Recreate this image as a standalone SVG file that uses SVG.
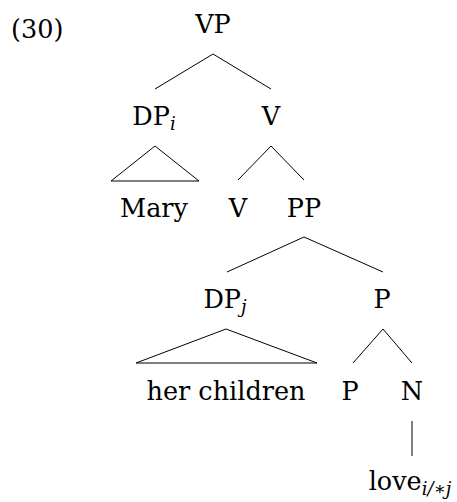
<svg xmlns="http://www.w3.org/2000/svg" width="457" height="502" viewBox="0 0 457 502">
<style>
text{font-family:"DejaVu Serif","Liberation Serif",serif;font-size:25.5px;fill:#000}
.m{text-anchor:middle}
.s{font-style:italic;font-size:18px}
#edges line,#edges polyline,#edges polygon{stroke:#000;stroke-width:1;fill:none}
</style>
<rect width="457" height="502" fill="#fff"/>
<text id="ex" x="11" y="38">(30)</text>
<g id="edges">
<polyline points="155,89 213,54 271,89"/>
<polygon points="155,146 111,181 199,181"/>
<polyline points="238,180 271,146 304,180"/>
<polyline points="227,272 304,237 383,272"/>
<polygon points="226,329 136,363 317,363"/>
<polyline points="353,363 383,329 412,363"/>
<line x1="412" y1="421" x2="412" y2="456"/>
</g>
<g id="n-vp"><text class="m" x="213" y="33">VP</text></g>
<g id="n-dpi"><text class="m" x="154" y="125">DP<tspan class="s" dy="5">i</tspan></text></g>
<g id="n-v1"><text class="m" x="271" y="125">V</text></g>
<g id="n-mary"><text class="m" x="154" y="217">Mary</text></g>
<g id="n-v2"><text class="m" x="238" y="217">V</text></g>
<g id="n-pp"><text class="m" x="304" y="217">PP</text></g>
<g id="n-dpj"><text class="m" x="225" y="308">DP<tspan class="s" dy="5">j</tspan></text></g>
<g id="n-p1"><text class="m" x="382" y="308">P</text></g>
<g id="n-her"><text class="m" x="226" y="400">her children</text></g>
<g id="n-p2"><text class="m" x="350" y="400">P</text></g>
<g id="n-n"><text class="m" x="412" y="400">N</text></g>
<g id="n-love"><text class="m" x="410" y="490">love<tspan class="s" dy="5">i/∗j</tspan></text></g>
</svg>
